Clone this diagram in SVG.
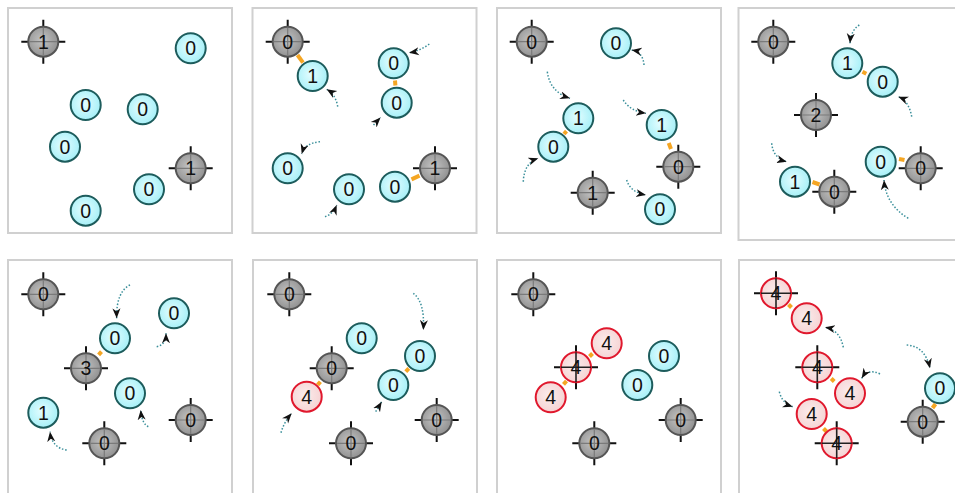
<svg xmlns="http://www.w3.org/2000/svg" xmlns:xlink="http://www.w3.org/1999/xlink" width="955" height="493" viewBox="0 0 955 493">
<style>
.panel{fill:#fff;stroke:#d0d0d0;stroke-width:2}
.c{fill:url(#gc);stroke:#1d5c5c;stroke-width:2}
.g{fill:url(#gg);stroke:#555;stroke-width:2}
.r{fill:url(#gr);stroke:#e0182d;stroke-width:2}
.t{font-family:"Liberation Sans",Arial,sans-serif;font-size:19.5px;text-anchor:middle;fill:#111}
.lk{stroke:#f5a623;stroke-width:4;fill:none}
.ar{stroke:#3a8f9a;stroke-width:1.5;stroke-dasharray:1.5 1.8;fill:none;marker-end:url(#ah)}
</style>
<defs>
<radialGradient id="gc" cx="0.45" cy="0.45" r="0.6"><stop offset="0" stop-color="#e4fdff"/><stop offset="1" stop-color="#a2eff7"/></radialGradient>
<radialGradient id="gg" cx="0.45" cy="0.45" r="0.6"><stop offset="0" stop-color="#c4c4c4"/><stop offset="1" stop-color="#8e8e8e"/></radialGradient>
<radialGradient id="gr" cx="0.45" cy="0.45" r="0.6"><stop offset="0" stop-color="#fbecec"/><stop offset="1" stop-color="#f5d2d2"/></radialGradient>
<marker id="ah" markerWidth="11" markerHeight="10" refX="10" refY="5" orient="auto" markerUnits="userSpaceOnUse"><path d="M0,1 L10,5 L0,9 L3,5z" fill="#111"/></marker>
<path id="arms" d="M-22,0H-15M15,0H22M0,-22V-15M0,15V22" stroke="#111" stroke-width="2"/>
<path id="ig" d="M-14,0H14M0,-14V14" stroke="#7a7a7a" stroke-width="1.2"/>
<path id="ir" d="M-15,0H15M0,-15V15" stroke="#222" stroke-width="1.6"/>
</defs>
<rect width="955" height="493" fill="#fff"/>
<g id="panels">
<rect class="panel" x="8" y="8" width="224" height="225"/>
<rect class="panel" x="252.5" y="8" width="224" height="225"/>
<rect class="panel" x="497" y="8" width="224" height="225"/>
<rect class="panel" x="738.5" y="8" width="224" height="232"/>
<rect class="panel" x="8" y="260" width="224" height="245"/>
<rect class="panel" x="253" y="260" width="224" height="245"/>
<rect class="panel" x="497" y="260" width="224" height="245"/>
<rect class="panel" x="739" y="260" width="224" height="245"/>
</g>
<g id="connectors">
<line class="lk" x1="297.5" y1="55" x2="303" y2="62.6"/>
<line class="lk" x1="395" y1="80.5" x2="395.4" y2="85.5"/>
<line class="lk" x1="411.5" y1="179.4" x2="419.5" y2="175.6"/>
<line class="lk" x1="564" y1="134" x2="566.5" y2="131.2"/>
<line class="lk" x1="668.7" y1="143" x2="671" y2="149"/>
<line class="lk" x1="862.5" y1="71.7" x2="866.3" y2="73.7"/>
<line class="lk" x1="812.5" y1="182" x2="819.5" y2="184.5"/>
<line class="lk" x1="899" y1="159" x2="904.5" y2="160"/>
<line class="lk" x1="101.5" y1="351.6" x2="98.6" y2="354.8"/>
<line class="lk" x1="320.4" y1="381.7" x2="317.6" y2="384.9"/>
<line class="lk" x1="408.8" y1="368.4" x2="405.8" y2="371.6"/>
<line class="lk" x1="592.5" y1="353.5" x2="589.5" y2="356.5"/>
<line class="lk" x1="566.5" y1="381" x2="563.5" y2="384.4"/>
<line class="lk" x1="788.5" y1="304.5" x2="791.5" y2="307.5"/>
<line class="lk" x1="831.2" y1="378.5" x2="834.2" y2="381.5"/>
<line class="lk" x1="823.5" y1="428.5" x2="826.5" y2="431.5"/>
<line class="lk" x1="935.5" y1="404" x2="932.5" y2="408"/>
<path class="ar" d="M337.7,106.7 Q336,95 326.7,89.3"/>
<path class="ar" d="M429.3,44 Q420,51 409,52.7"/>
<path class="ar" d="M373.5,125 L380.5,117.5"/>
<path class="ar" d="M320,141.7 Q305,143 301.7,154"/>
<path class="ar" d="M325,216.7 Q333,214 336.7,205"/>
<path class="ar" d="M644,65 Q643,52 631.7,50"/>
<path class="ar" d="M547.3,71.7 Q550,92 570,98.3"/>
<path class="ar" d="M523.3,181.7 Q524,163 538.3,158.3"/>
<path class="ar" d="M623.3,100 Q630,111 646,113.3"/>
<path class="ar" d="M626.7,180 Q630,192 646,195"/>
<path class="ar" d="M859.3,25 Q851,30 850,43.3"/>
<path class="ar" d="M911.7,116.7 Q909,101 898.3,96.7"/>
<path class="ar" d="M771.7,143.3 Q773,158 786.7,161.7"/>
<path class="ar" d="M908.3,218.3 Q886,205 884,180"/>
<path class="ar" d="M130,285 Q116,292 116.7,318.3"/>
<path class="ar" d="M156.7,346.7 Q166,345 166,333.3"/>
<path class="ar" d="M148.3,426.7 Q142,424 140.7,410"/>
<path class="ar" d="M66.7,450 Q52,448 50,431.7"/>
<path class="ar" d="M281,432.7 Q284,422 291.7,413.3"/>
<path class="ar" d="M413.3,293.3 Q425,302 423.3,330"/>
<path class="ar" d="M375.7,411.7 L381.7,401.7"/>
<path class="ar" d="M843.3,347.3 Q840,330 825,327.3"/>
<path class="ar" d="M880,374 Q868,368 861.7,378.3"/>
<path class="ar" d="M779.3,391.7 Q782,403 792.7,406.7"/>
<path class="ar" d="M906.7,345 Q925,346 930,368.3"/>
</g>
<!-- panel 1 -->
<g id="p1n1" transform="translate(43.3,41.7)"><use href="#arms"/><circle class="g" r="15"/><use href="#ig"/><text class="t" y="7">1</text></g>
<g id="p1n2" transform="translate(190.7,48.3)"><circle class="c" r="15"/><text class="t" y="7">0</text></g>
<g id="p1n3" transform="translate(85.7,105)"><circle class="c" r="15"/><text class="t" y="7">0</text></g>
<g id="p1n4" transform="translate(142.7,109.3)"><circle class="c" r="15"/><text class="t" y="7">0</text></g>
<g id="p1n5" transform="translate(65,146.7)"><circle class="c" r="15"/><text class="t" y="7">0</text></g>
<g id="p1n6" transform="translate(190.7,168.3)"><use href="#arms"/><circle class="g" r="15"/><use href="#ig"/><text class="t" y="7">1</text></g>
<g id="p1n7" transform="translate(149,189.3)"><circle class="c" r="15"/><text class="t" y="7">0</text></g>
<g id="p1n8" transform="translate(85.7,210.7)"><circle class="c" r="15"/><text class="t" y="7">0</text></g>
<!-- panel 2 -->
<g id="p2n1" transform="translate(287.7,41.7)"><use href="#arms"/><circle class="g" r="15"/><use href="#ig"/><text class="t" y="7">0</text></g>
<g id="p2n2" transform="translate(312.7,76)"><circle class="c" r="15"/><text class="t" y="7">1</text></g>
<g id="p2n3" transform="translate(393.7,63.3)"><circle class="c" r="15"/><text class="t" y="7">0</text></g>
<g id="p2n4" transform="translate(396.7,102.7)"><circle class="c" r="15"/><text class="t" y="7">0</text></g>
<g id="p2n5" transform="translate(287.7,168.3)"><circle class="c" r="15"/><text class="t" y="7">0</text></g>
<g id="p2n6" transform="translate(349,189.3)"><circle class="c" r="15"/><text class="t" y="7">0</text></g>
<g id="p2n7" transform="translate(395,186.7)"><circle class="c" r="15"/><text class="t" y="7">0</text></g>
<g id="p2n8" transform="translate(435,168.3)"><use href="#arms"/><circle class="g" r="15"/><use href="#ig"/><text class="t" y="7">1</text></g>
<!-- panel 3 -->
<g id="p3n1" transform="translate(531.7,41.7)"><use href="#arms"/><circle class="g" r="15"/><use href="#ig"/><text class="t" y="7">0</text></g>
<g id="p3n2" transform="translate(616,43.3)"><circle class="c" r="15"/><text class="t" y="7">0</text></g>
<g id="p3n3" transform="translate(578.3,118.3)"><circle class="c" r="15"/><text class="t" y="7">1</text></g>
<g id="p3n4" transform="translate(553.3,146.7)"><circle class="c" r="15"/><text class="t" y="7">0</text></g>
<g id="p3n5" transform="translate(661.7,125)"><circle class="c" r="15"/><text class="t" y="7">1</text></g>
<g id="p3n6" transform="translate(678.3,166.7)"><use href="#arms"/><circle class="g" r="15"/><use href="#ig"/><text class="t" y="7">0</text></g>
<g id="p3n7" transform="translate(592.7,192.7)"><use href="#arms"/><circle class="g" r="15"/><use href="#ig"/><text class="t" y="7">1</text></g>
<g id="p3n8" transform="translate(660,209.3)"><circle class="c" r="15"/><text class="t" y="7">0</text></g>
<!-- panel 4 -->
<g id="p4n1" transform="translate(773.3,41.7)"><use href="#arms"/><circle class="g" r="15"/><use href="#ig"/><text class="t" y="7">0</text></g>
<g id="p4n2" transform="translate(847.3,63.3)"><circle class="c" r="15"/><text class="t" y="7">1</text></g>
<g id="p4n3" transform="translate(882.7,81.7)"><circle class="c" r="15"/><text class="t" y="7">0</text></g>
<g id="p4n4" transform="translate(816,115)"><use href="#arms"/><circle class="g" r="15"/><use href="#ig"/><text class="t" y="7">2</text></g>
<g id="p4n5" transform="translate(795,181.7)"><circle class="c" r="15"/><text class="t" y="7">1</text></g>
<g id="p4n6" transform="translate(834.3,191.7)"><use href="#arms"/><circle class="g" r="15"/><use href="#ig"/><text class="t" y="7">0</text></g>
<g id="p4n7" transform="translate(880.7,161.7)"><circle class="c" r="15"/><text class="t" y="7">0</text></g>
<g id="p4n8" transform="translate(920.7,168.3)"><use href="#arms"/><circle class="g" r="15"/><use href="#ig"/><text class="t" y="7">0</text></g>
<!-- panel 5 -->
<g id="p5n1" transform="translate(43.3,294.3)"><use href="#arms"/><circle class="g" r="15"/><use href="#ig"/><text class="t" y="7">0</text></g>
<g id="p5n2" transform="translate(115,338.3)"><circle class="c" r="15"/><text class="t" y="7">0</text></g>
<g id="p5n3" transform="translate(174,313.3)"><circle class="c" r="15"/><text class="t" y="7">0</text></g>
<g id="p5n4" transform="translate(86,368.3)"><use href="#arms"/><circle class="g" r="15"/><use href="#ig"/><text class="t" y="7">3</text></g>
<g id="p5n5" transform="translate(130,393.3)"><circle class="c" r="15"/><text class="t" y="7">0</text></g>
<g id="p5n6" transform="translate(43.3,412.7)"><circle class="c" r="15"/><text class="t" y="7">1</text></g>
<g id="p5n7" transform="translate(104.3,443.3)"><use href="#arms"/><circle class="g" r="15"/><use href="#ig"/><text class="t" y="7">0</text></g>
<g id="p5n8" transform="translate(190.7,420)"><use href="#arms"/><circle class="g" r="15"/><use href="#ig"/><text class="t" y="7">0</text></g>
<!-- panel 6 -->
<g id="p6n1" transform="translate(289.3,294.3)"><use href="#arms"/><circle class="g" r="15"/><use href="#ig"/><text class="t" y="7">0</text></g>
<g id="p6n2" transform="translate(361.7,338.3)"><circle class="c" r="15"/><text class="t" y="7">0</text></g>
<g id="p6n3" transform="translate(331.7,368.3)"><use href="#arms"/><circle class="g" r="15"/><use href="#ig"/><text class="t" y="7">0</text></g>
<g id="p6n4" transform="translate(306.7,396.7)"><circle class="r" r="15"/><text class="t" y="7">4</text></g>
<g id="p6n5" transform="translate(420,356)"><circle class="c" r="15"/><text class="t" y="7">0</text></g>
<g id="p6n6" transform="translate(393.3,385)"><circle class="c" r="15"/><text class="t" y="7">0</text></g>
<g id="p6n7" transform="translate(436.7,420)"><use href="#arms"/><circle class="g" r="15"/><use href="#ig"/><text class="t" y="7">0</text></g>
<g id="p6n8" transform="translate(351,443.3)"><use href="#arms"/><circle class="g" r="15"/><use href="#ig"/><text class="t" y="7">0</text></g>
<!-- panel 7 -->
<g id="p7n1" transform="translate(533.3,294.3)"><use href="#arms"/><circle class="g" r="15"/><use href="#ig"/><text class="t" y="7">0</text></g>
<g id="p7n2" transform="translate(606.7,343.3)"><circle class="r" r="15"/><text class="t" y="7">4</text></g>
<g id="p7n3" transform="translate(576,367.3)"><use href="#arms"/><circle class="r" r="15"/><use href="#ir"/><text class="t" y="7">4</text></g>
<g id="p7n4" transform="translate(550.7,397.3)"><circle class="r" r="15"/><text class="t" y="7">4</text></g>
<g id="p7n5" transform="translate(664,356)"><circle class="c" r="15"/><text class="t" y="7">0</text></g>
<g id="p7n6" transform="translate(637.3,385)"><circle class="c" r="15"/><text class="t" y="7">0</text></g>
<g id="p7n7" transform="translate(680.7,420)"><use href="#arms"/><circle class="g" r="15"/><use href="#ig"/><text class="t" y="7">0</text></g>
<g id="p7n8" transform="translate(594.3,443.3)"><use href="#arms"/><circle class="g" r="15"/><use href="#ig"/><text class="t" y="7">0</text></g>
<!-- panel 8 -->
<g id="p8n1" transform="translate(776,293.3)"><use href="#arms"/><circle class="r" r="15"/><use href="#ir"/><text class="t" y="7">4</text></g>
<g id="p8n2" transform="translate(806.7,318.3)"><circle class="r" r="15"/><text class="t" y="7">4</text></g>
<g id="p8n3" transform="translate(817.3,367.3)"><use href="#arms"/><circle class="r" r="15"/><use href="#ir"/><text class="t" y="7">4</text></g>
<g id="p8n4" transform="translate(850,393.3)"><circle class="r" r="15"/><text class="t" y="7">4</text></g>
<g id="p8n5" transform="translate(811.7,414)"><circle class="r" r="15"/><text class="t" y="7">4</text></g>
<g id="p8n6" transform="translate(836.7,443.3)"><use href="#arms"/><circle class="r" r="15"/><use href="#ir"/><text class="t" y="7">4</text></g>
<g id="p8n7" transform="translate(940,388.3)"><circle class="c" r="15"/><text class="t" y="7">0</text></g>
<g id="p8n8" transform="translate(922.7,421.7)"><use href="#arms"/><circle class="g" r="15"/><use href="#ig"/><text class="t" y="7">0</text></g>
</svg>
